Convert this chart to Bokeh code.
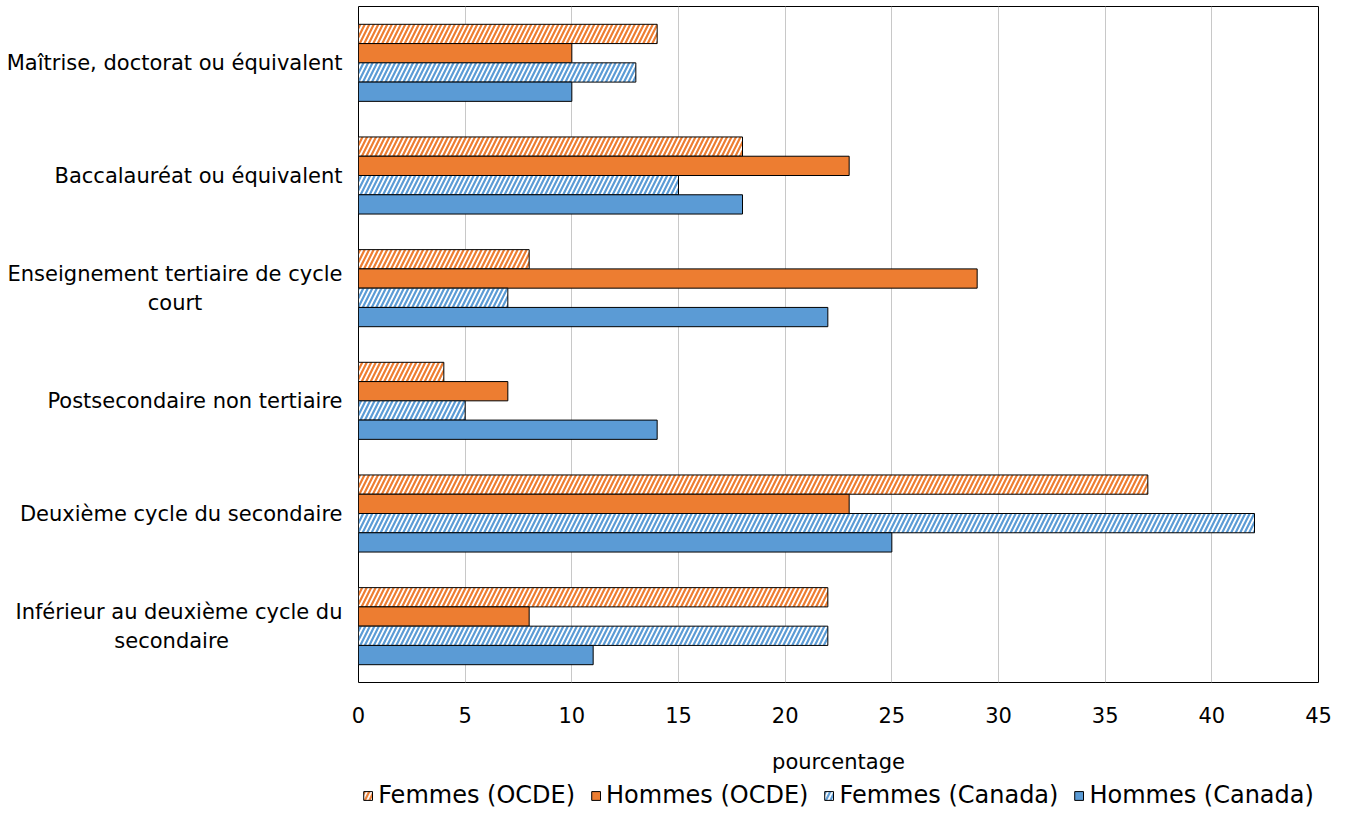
from bokeh.plotting import figure
from bokeh.layouts import column
from bokeh.models import Range1d, Legend, LegendItem, ColumnDataSource, SingleIntervalTicker, FixedTicker
from bokeh.transform import dodge
from bokeh.embed import file_html
from bokeh.resources import INLINE

NB = "\u00a0"
categories = [
    "Maîtrise, doctorat ou équivalent",
    "Baccalauréat ou équivalent",
    "Enseignement tertiaire de cycle\ncourt" + NB * 21,
    "Postsecondaire non tertiaire",
    "Deuxième cycle du secondaire",
    "Inférieur au deuxième cycle du\nsecondaire" + NB * 17,
]
femmes_ocde = [14, 18, 8, 4, 37, 22]
hommes_ocde = [10, 23, 29, 7, 23, 8]
femmes_canada = [13, 15, 7, 5, 42, 22]
hommes_canada = [10, 18, 22, 14, 25, 11]
series_labels = ["Femmes (OCDE)", "Hommes (OCDE)", "Femmes (Canada)", "Hommes (Canada)"]

ORANGE = "#ED7D31"
BLUE = "#5B9BD5"
FONT = "DejaVu Sans"
FS = "21px"

n = len(categories)
ypos = [n - 1 - i for i in range(n)]  # top category drawn highest

src = ColumnDataSource(dict(y=ypos, fo=femmes_ocde, ho=hommes_ocde,
                            fc=femmes_canada, hc=hommes_canada))

p = figure(
    y_range=Range1d(-0.5, n - 0.5),
    x_range=Range1d(0, 45),
    frame_width=960, frame_height=676,
    min_border_left=358, min_border_right=18, min_border_top=6, min_border_bottom=0,
    output_backend="svg", toolbar_location=None,
)

bh = 0.171
offs = [1.5 * bh, 0.5 * bh, -0.5 * bh, -1.5 * bh]
specs = [
    ("fo", ORANGE, True),
    ("ho", ORANGE, False),
    ("fc", BLUE, True),
    ("hc", BLUE, False),
]


def style(color, hatched):
    kw = dict(line_color="black", line_width=1)
    if hatched:
        kw.update(fill_color="white", hatch_pattern="/", hatch_color=color,
                  hatch_scale=9, hatch_weight=2.2)
    else:
        kw.update(fill_color=color)
    return kw


for (col, color, hatched), off in zip(specs, offs):
    p.hbar(y=dodge("y", off), left=0, right=col, height=bh, source=src, **style(color, hatched))

p.outline_line_color = "black"
p.outline_line_width = 1

p.ygrid.grid_line_color = None
p.xgrid.grid_line_color = "#c8c8c8"
p.xgrid.grid_line_width = 1
p.xaxis.ticker = SingleIntervalTicker(interval=5)
p.yaxis.ticker = FixedTicker(ticks=ypos)

for ax in (p.xaxis[0], p.yaxis[0]):
    ax.axis_line_color = None
    ax.major_tick_line_color = None
    ax.minor_tick_line_color = None
    ax.major_label_text_font = FONT
    ax.major_label_text_font_size = FS
    ax.major_label_text_color = "black"

p.yaxis.major_label_overrides = {y: c for y, c in zip(ypos, categories)}
p.xaxis.major_label_standoff = 18
p.yaxis.major_label_standoff = 10
p.xaxis.axis_label = "pourcentage"
p.xaxis.axis_label_text_font = FONT
p.xaxis.axis_label_text_font_size = FS
p.xaxis.axis_label_text_font_style = "normal"
p.xaxis.axis_label_text_color = "black"
p.xaxis.axis_label_standoff = 24

# legend strip below the chart (its bars lie outside the strip's visible range)
pl = figure(
    width=1336, height=38, x_range=Range1d(0, 1), y_range=Range1d(100, 101),
    x_axis_type=None, y_axis_type=None,
    min_border_left=34, min_border_right=0, min_border_top=0, min_border_bottom=0,
    output_backend="svg", toolbar_location=None,
)
pl.outline_line_color = None
pl.grid.visible = False
leg_renderers = [
    pl.hbar(y="y", left=0, right=col, height=bh, source=src, **style(color, hatched))
    for (col, color, hatched) in specs
]
legend = Legend(
    items=[LegendItem(label=l, renderers=[r], index=0) for l, r in zip(series_labels, leg_renderers)],
    orientation="horizontal", location="center",
    label_text_font=FONT, label_text_font_size="24px", label_text_color="black",
    label_height=24, glyph_width=11, glyph_height=11, spacing=15, label_standoff=5,
    border_line_color=None, background_fill_alpha=0, margin=0, padding=0,
)
pl.add_layout(legend)

layout = column(p, pl, spacing=0)
open("out.html", "w").write(file_html(layout, INLINE))
